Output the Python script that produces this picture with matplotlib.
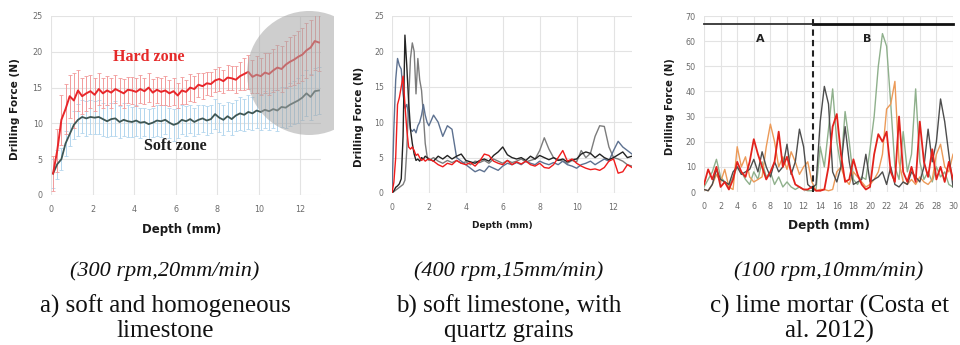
import numpy as np
import matplotlib
matplotlib.use("Agg")
import matplotlib.pyplot as plt
from matplotlib.patches import Ellipse
from matplotlib.transforms import Bbox, TransformedBbox

# ---------------- data: panel a ----------------
depth_a = np.round(np.arange(0.1, 13.0, 0.2), 1)
hard = [3.0, 6.2, 10.5, 12.0, 13.8, 13.2, 14.6, 13.8, 14.2, 14.5,
        14.0, 14.8, 14.2, 14.6, 14.3, 14.8, 14.5, 14.2, 14.7, 14.6,
        14.4, 14.8, 14.5, 15.0, 14.3, 14.7, 14.4, 14.6, 14.2, 14.5,
        13.9, 14.6, 14.4, 15.0, 14.8, 15.4, 15.2, 15.6, 15.5, 16.0,
        16.2, 15.9, 16.4, 16.3, 16.1, 16.6, 16.9, 17.2, 16.5, 16.8,
        16.6, 17.1, 16.9, 17.4, 17.8, 17.6, 18.2, 18.6, 18.9, 19.3,
        19.6, 20.2, 20.6, 21.5, 21.3]
hard_err = [2.5, 3.0, 3.5, 3.5, 3.0, 3.8, 2.8, 2.5, 2.4, 2.3,
            2.3, 2.2, 2.1, 2.0, 2.1, 2.0, 1.9, 2.0, 1.8, 1.9,
            2.0, 1.9, 1.8, 2.0, 1.9, 1.8, 1.9, 2.0, 1.8, 1.9,
            1.8, 1.9, 1.7, 1.9, 1.8, 1.7, 1.8, 1.6, 1.7, 1.6,
            1.7, 1.6, 1.8, 1.7, 1.9, 2.0, 2.2, 2.4, 2.3, 2.6,
            2.6, 2.8, 2.9, 3.0, 3.1, 3.2, 3.3, 3.4, 3.5, 3.6,
            3.7, 3.8, 3.9, 4.0, 4.0]
soft = [3.0, 4.3, 5.0, 7.2, 8.5, 9.8, 10.5, 10.9, 10.7, 10.9,
        10.8, 10.9, 10.6, 10.3, 10.6, 10.7, 10.2, 10.5, 10.3, 10.2,
        10.4, 10.1, 10.2, 9.9, 10.1, 10.4, 10.3, 10.5, 10.1, 9.8,
        10.0, 10.5, 10.3, 10.6, 10.2, 10.5, 10.7, 10.4, 10.6, 11.3,
        10.8, 10.5, 11.0, 10.6, 11.1, 11.4, 11.2, 11.6, 11.4, 11.8,
        11.6, 11.9, 11.7, 12.0, 11.8, 12.3, 12.2, 12.6, 12.9, 13.2,
        13.6, 14.2, 13.7, 14.5, 14.6]
soft_err = [2.0, 2.0, 1.5, 1.8, 1.6, 2.0, 2.2, 2.3, 2.4, 2.4,
            2.3, 2.4, 2.3, 2.2, 2.3, 2.4, 2.2, 2.3, 2.2, 2.1,
            2.2, 2.1, 2.0, 2.1, 2.0, 2.1, 2.2, 2.0, 2.1, 2.2,
            2.1, 2.0, 2.1, 2.0, 1.9, 2.0, 1.9, 2.0, 1.9, 2.1,
            2.0, 2.1, 2.0, 2.2, 2.1, 2.3, 2.2, 2.4, 2.3, 2.5,
            2.5, 2.6, 2.6, 2.7, 2.8, 2.8, 2.9, 3.0, 3.0, 3.1,
            3.1, 3.2, 3.2, 3.3, 3.3]

# ---------------- data: panel b ----------------
depth_b = np.round(np.concatenate([np.arange(0.0, 2.05, 0.1),
                                   np.arange(2.25, 13.01, 0.25)]), 2)
b_red = [0, 1.5, 5, 12.5, 13.5, 15, 16.5, 12.5, 9, 6.5, 6.2, 6.5, 6.0, 5.3, 5.5, 5.0, 4.6, 4.8, 4.5, 4.7, 4.8,
         4.5, 4.0, 3.7, 4.2, 4.0, 4.6, 4.2, 4.0, 4.3, 3.8,
         4.5, 5.5, 5.3, 4.5, 4.2, 4.0, 4.6, 4.0, 4.4, 4.1,
         4.5, 4.0, 3.8, 4.2, 3.6, 3.5, 4.0, 5.0, 6.0, 4.5,
         4.8, 4.2, 3.8, 3.5, 3.3, 3.4, 3.2, 3.6, 4.5, 4.8,
         2.8, 3.0, 4.0, 3.6]
b_slate = [0, 9, 16, 19, 18, 17.5, 14, 12, 12.5, 11, 9, 8.7, 9, 8.5, 9.5, 10, 11, 12.5, 11, 10, 9.5,
           11, 10, 8, 9.5, 9.0, 5.0, 4.5, 4.0, 3.5, 3.0,
           3.3, 3.0, 3.8, 3.5, 3.2, 3.8, 4.2, 4.0, 4.3, 4.0,
           4.5, 4.2, 4.0, 4.5, 4.2, 4.0, 4.3, 4.0, 4.5, 4.0,
           3.8, 3.5, 4.0, 4.2, 4.5, 4.0, 4.4, 4.8, 4.5, 6.0,
           7.3, 6.5, 6.0, 5.5]
b_black = [0, 0.3, 0.8, 1.0, 1.3, 2.0, 8, 22.3, 18, 13, 9, 7, 5.5, 4.6, 4.8, 4.5, 5.0, 4.8, 5.2, 5.0, 4.8,
           4.5, 5.2, 4.8, 5.3, 4.8, 5.2, 5.5, 4.6, 4.4, 4.2,
           4.6, 4.8, 4.5, 5.3, 5.8, 6.5, 5.4, 5.0, 4.8, 5.0,
           4.6, 5.2, 4.8, 5.3, 5.0, 4.7, 5.0, 4.6, 4.8, 4.4,
           4.7, 4.8, 5.5, 5.8, 5.6, 5.0, 5.5, 5.0, 4.7, 5.0,
           5.4, 5.8, 5.0, 5.2]
b_gray = [0, 0.2, 0.4, 0.6, 0.8, 1.0, 1.2, 1.8, 6, 13, 19, 21.2, 20, 14, 19, 16, 14.5, 11, 7, 5.2, 4.6,
          5.0, 4.5, 4.2, 4.6, 4.3, 4.6, 4.2, 4.4, 4.0, 4.5,
          4.3, 4.6, 4.2, 4.8, 4.5, 4.2, 4.6, 4.3, 4.5, 4.8,
          4.4, 4.6, 4.8, 6.0, 7.8, 6.2, 5.0, 4.7, 4.5, 4.2,
          4.6, 4.4, 6.0, 5.0, 5.6, 8.0, 9.5, 9.4, 6.5, 5.0,
          4.8, 4.5, 4.0, 3.8]

# ---------------- data: panel c ----------------
depth_c = np.arange(0, 30.01, 0.5)
c_green = [2, 5, 8, 13, 6, 4, 2, 6, 10, 8,
           5, 3, 8, 5, 12, 6, 8, 3, 6, 2,
           4, 2, 1, 2, 1, 0.5, 0.5, 1, 18, 10,
           25, 41, 20, 10, 32, 20, 5, 3, 6, 5,
           17, 30, 50, 63, 58, 35, 10, 5, 24, 8,
           15, 41, 12, 5, 8, 4, 10, 6, 8, 3, 2]
c_orange = [1, 0.5, 3, 7, 4, 9, 2, 1, 18, 10,
            14, 6, 4, 5, 6, 18, 27, 20, 10, 14,
            9, 16, 12, 7, 10, 12, 4, 0.5, 1, 1,
            0.5, 1, 8, 10, 5, 3, 8, 6, 4, 2,
            3, 5, 8, 15, 33, 35, 44, 12, 4, 3,
            5, 3, 6, 4, 3, 5, 15, 19, 10, 8, 15]
c_dark = [1, 0.5, 3, 9, 5, 4, 3, 8, 10, 7,
          8, 9, 13, 8, 16, 10, 6, 12, 8, 10,
          19, 7, 12, 25, 18, 3, 1.5, 3, 28, 42,
          35, 8, 4, 10, 26, 12, 3, 4, 5, 15,
          4, 5, 6, 8, 3, 10, 3, 2, 4, 3,
          8, 6, 4, 10, 25, 12, 20, 37, 28, 15, 2]
c_red = [3, 9, 5, 10, 2, 4, 1, 5, 12, 8,
         6, 12, 21, 15, 10, 5, 8, 12, 24, 10,
         14, 8, 3, 2, 1, 1, 2, 0.5, 0.5, 1,
         10, 26, 31, 15, 4, 5, 13, 7, 3, 1,
         2, 15, 23, 20, 24, 8, 4, 30, 8, 4,
         10, 4, 28, 12, 6, 17, 5, 10, 4, 12, 5]
zone_boundary = 13.1
zone_bar_level = 66.8

W, H = 960, 345
fig = plt.figure(figsize=(W / 100, H / 100), dpi=100)


def px_axes(l, t, r, b):
    return fig.add_axes([l / W, 1 - b / H, (r - l) / W, (b - t) / H])


GRID = "#e3e3e3"
TICK = "#6b6b6b"


def style(ax, fs):
    for s in ax.spines.values():
        s.set_visible(False)
    ax.grid(True, color=GRID, lw=0.8)
    ax.set_axisbelow(True)
    ax.tick_params(length=0, labelsize=fs, colors=TICK, pad=6)
    ax.tick_params(axis="x", pad=7)


# ---------- panel a ----------
axa = px_axes(51, 16, 321, 195)
style(axa, 5.8)
axa.set_xlim(0, 13)
axa.set_ylim(0, 25)
axa.set_xticks(range(0, 13, 2))
axa.set_yticks(range(0, 26, 5))
axa.errorbar(depth_a, soft, yerr=soft_err, fmt="none", ecolor="#b3d6ee",
             elinewidth=0.7, capsize=1.6, capthick=0.6, zorder=2)
axa.errorbar(depth_a, hard, yerr=hard_err, fmt="none", ecolor="#f29b9b",
             elinewidth=0.7, capsize=1.6, capthick=0.6, zorder=2)
axa.plot(depth_a, soft, color="#3e5654", lw=1.3, zorder=3)
axa.plot(depth_a, hard, color="#e8262a", lw=1.4, zorder=3)
axa.text(4.72, 19.3, "Hard zone", color="#e52a2a", fontsize=11.5, fontweight="bold",
         family="Liberation Serif", ha="center", va="center")
axa.text(6.0, 6.8, "Soft zone", color="#1e1e1e", fontsize=11.5, fontweight="bold",
         family="Liberation Serif", ha="center", va="center")
circ = Ellipse((12.43, 17.04), 2 * 62 / 20.75, 2 * 62 / 179 * 25,
               facecolor="#a6a6a6", alpha=0.55, edgecolor="none", zorder=5)
axa.add_patch(circ)
circ.set_clip_box(TransformedBbox(Bbox([[0, 0], [334 / W, 1]]), fig.transFigure))

# ---------- panel b ----------
axb = px_axes(392, 16, 632, 193)
style(axb, 5.6)
axb.set_xlim(0, 13)
axb.set_ylim(0, 25)
axb.set_xticks(range(0, 13, 2))
axb.set_yticks(range(0, 26, 5))
axb.plot(depth_b, b_gray, color="#7c7c7c", lw=1.0)
axb.plot(depth_b, b_slate, color="#5d7190", lw=1.0)
axb.plot(depth_b, b_black, color="#232323", lw=1.0)
axb.plot(depth_b, b_red, color="#f01c1c", lw=1.0)

# ---------- panel c ----------
axc = px_axes(704, 16, 953, 192)
style(axc, 5.8)
axc.set_xlim(0, 30)
axc.set_ylim(0, 70)
axc.set_xticks(range(0, 31, 2))
axc.set_yticks(range(0, 71, 10))
axc.plot(depth_c, c_green, color="#8fb08c", lw=1.0)
axc.plot(depth_c, c_orange, color="#ec9a58", lw=1.0)
axc.plot(depth_c, c_dark, color="#4d4d4d", lw=1.0)
axc.plot(depth_c, c_red, color="#e2221c", lw=1.3)
axc.plot([0, zone_boundary], [zone_bar_level] * 2, color="#333333", lw=1.3, clip_on=False)
axc.plot([zone_boundary, 30], [zone_bar_level] * 2, color="#111111", lw=2.0, clip_on=False)
axc.plot([zone_boundary] * 2, [0, 70], color="#222222", lw=1.5, ls=(0, (3, 2)))
axc.text(6.8, 60.7, "A", fontsize=8, fontweight="bold", ha="center", va="center", color="#222222")
axc.text(19.7, 60.7, "B", fontsize=8, fontweight="bold", ha="center", va="center", color="#222222")

# ---------- axis labels ----------
LBL = "#1a1a1a"
fig.text(15 / W, 1 - 109 / H, "Drilling Force (N)", rotation=90, ha="center", va="center",
         fontsize=7.6, fontweight="bold", color=LBL)
fig.text(182 / W, 1 - 229 / H, "Depth (mm)", ha="center", va="center",
         fontsize=8.5, fontweight="bold", color=LBL)
fig.text(359 / W, 1 - 117 / H, "Drilling Force (N)", rotation=90, ha="center", va="center",
         fontsize=7.4, fontweight="bold", color=LBL)
fig.text(502 / W, 1 - 226 / H, "Depth (mm)", ha="center", va="center",
         fontsize=6.4, fontweight="bold", color=LBL)
fig.text(670 / W, 1 - 107 / H, "Drilling Force (N)", rotation=90, ha="center", va="center",
         fontsize=7.2, fontweight="bold", color=LBL)
fig.text(829 / W, 1 - 225 / H, "Depth (mm)", ha="center", va="center",
         fontsize=8.7, fontweight="bold", color=LBL)

# ---------- captions ----------
CAP = dict(family="Liberation Serif", color="#111111", ha="center", va="center")
caps = [(165, "(300 rpm,20mm/min)", "a) soft and homogeneous", "limestone"),
        (509, "(400 rpm,15mm/min)", "b) soft limestone, with", "quartz grains"),
        (829, "(100 rpm,10mm/min)", "c) lime mortar (Costa et", "al. 2012)")]
for cx, l1, l2, l3 in caps:
    fig.text(cx / W, 1 - 271 / H, l1, fontsize=16, style="italic", **CAP)
    fig.text(cx / W, 1 - 306 / H, l2, fontsize=18, **CAP)
    fig.text(cx / W, 1 - 331 / H, l3, fontsize=18, **CAP)

fig.savefig("out.png", dpi=100)
